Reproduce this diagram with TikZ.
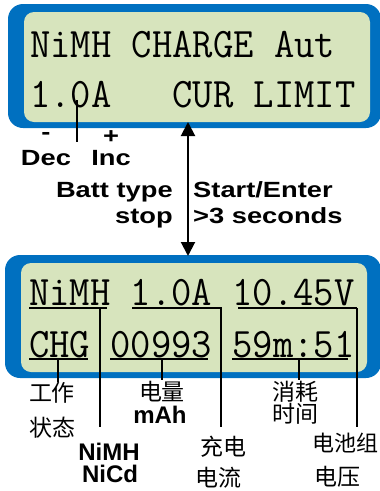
\documentclass[tikz,border=0pt]{standalone}
\usepackage{fontspec}
\setsansfont{Liberation Sans}
\newfontfamily\cjkfont{Noto Sans CJK SC}
\usepackage{tikz}
\usetikzlibrary{arrows.meta}

\definecolor{lcdblue}{HTML}{0070C0}
\definecolor{lcdgreen}{HTML}{D7E4BD}

\tikzset{
	lcd/.style={font=\ttfamily\fontsize{42}{48}\selectfont, inner sep=0pt, anchor=base west, xscale=0.94, transform shape},
	keylbl/.style={font=\sffamily\bfseries\fontsize{22}{26}\selectfont, inner sep=0pt, xscale=1.24, transform shape},
	btmlbl/.style={font=\sffamily\bfseries\fontsize{24}{27}\selectfont, inner sep=0pt, anchor=base},
	cjklbl/.style={font=\cjkfont\fontsize{23}{26}\selectfont, inner sep=0pt},
	pointer/.style={line width=1.5pt},
	uline/.style={line width=1.3pt},
}

\begin{document}
\begin{tikzpicture}[x=1pt, y=-1pt]
	\useasboundingbox (0,0) rectangle (380,491);

	% Draw displays
	%Top
	\fill[lcdblue, rounded corners=15pt] (8,4) rectangle (381,128);
	\fill[lcdgreen, rounded corners=10pt] (24,12) rectangle (370,122);
	%Bottom
	\fill[lcdblue, rounded corners=15pt] (5,255) rectangle (381,378);
	\fill[lcdgreen, rounded corners=10pt] (21,263) rectangle (367,372);

	% Display text
	\node[lcd] (mode) at (30,57) {NiMH CHARGE Aut};
	\node[lcd] (limit) at (30,107) {1.0A\ \ \ CUR LIMIT};
	\node[lcd] (status) at (29,305) {NiMH 1.0A 10.45V};
	\node[lcd] (reading) at (29,357) {CHG 00993 59m:51};

	% Underlines
	\draw[uline] (29,308) -- (107,308);
	\draw[uline] (132,308) -- (222,308);
	\draw[uline] (238,308) -- (357,308);
	\draw[uline] (29,359) -- (88,359);
	\draw[uline] (110,359) -- (208,359);
	\draw[uline] (232,359) -- (348,359);

	% Keys
	\coordinate (digit) at (77,100);
	\coordinate (digit-end) at (77,142);
	\draw[pointer] (digit) -- (digit-end);
	\node[keylbl, anchor=base] (minus) at (46,139) {-};
	\node[keylbl, anchor=base] (plus) at (111,143) {+};
	\node[keylbl, anchor=base] (dec) at (46,165) {Dec};
	\node[keylbl, anchor=base] (inc) at (111,165) {Inc};
	\node[keylbl, anchor=base east] (batt) at (173,197) {Batt type};
	\node[keylbl, anchor=base east] (stop) at (173,223) {stop};
	\node[keylbl, anchor=base west] (start) at (193,197) {Start/Enter};
	\node[keylbl, anchor=base west] (hold) at (193,223) {>3 seconds};

	% Start/Enter arrow
	\coordinate (top-lcd) at (188,122);
	\coordinate (bot-lcd) at (188,256);
	\draw[{Triangle[length=14pt,width=14pt]}-{Triangle[length=14pt,width=14pt]}, line width=2pt] (top-lcd) -- (bot-lcd);

	% Pointers to the labels
	\foreach \nm/\x/\ya/\yb in {type/100/308/427, cur/221/308/427, volt/357/308/427,
		state/58/359/382, cap/162/359/380, time/299/359/380}{
		\coordinate (\nm-top) at (\x,\ya);
		\coordinate (\nm-end) at (\x,\yb);
		\draw[pointer] (\nm-top) -- (\nm-end);
	}

	%Labels
	\node[cjklbl] (state1) at (52,393) {工作};
	\node[cjklbl] (state2) at (53,428) {状态};
	\node[btmlbl] (nimh) at (109,460) {NiMH};
	\node[btmlbl] (nicd) at (110,482) {NiCd};
	\node[cjklbl] (cap1) at (162,392) {电量};
	\node[btmlbl] (mah) at (160,423) {mAh};
	\node[cjklbl] (cur1) at (223,447) {充电};
	\node[cjklbl] (cur2) at (218,478) {电流};
	\node[cjklbl] (time1) at (295,392) {消耗};
	\node[cjklbl] (time2) at (295,414) {时间};
	\node[cjklbl, font=\cjkfont\fontsize{22}{26}\selectfont] (volt1) at (345,443) {电池组};
	\node[cjklbl] (volt2) at (337,477) {电压};

\end{tikzpicture}
\end{document}
